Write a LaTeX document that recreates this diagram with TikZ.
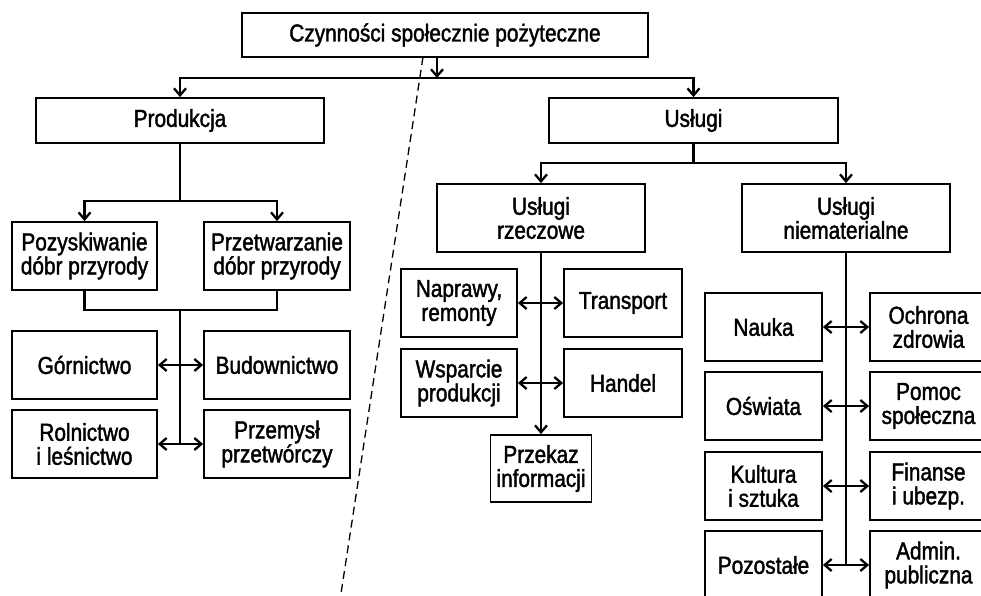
\documentclass[tikz,border=0pt]{standalone}
\usepackage{fontspec}
\setmainfont[FakeStretch=0.85,FakeBold=1.6]{Liberation Sans}
\usetikzlibrary{arrows.meta}
\begin{document}
\begin{tikzpicture}[x=1pt,y=-1pt,
  box/.style={draw, line width=1.8pt, rectangle, inner sep=0pt, align=center,
    font=\fontsize{24.5}{24}\selectfont, minimum height=68pt},
  conn/.style={line width=2.3pt},
  arrow/.style={conn, -{Straight Barb[length=7pt,width=12pt,line width=2.3pt]}},
  twoway/.style={conn, {Straight Barb[length=7pt,width=12pt,line width=2.3pt]}-{Straight Barb[length=7pt,width=12pt,line width=2.3pt]}},
  sep/.style={line width=1.3pt, dash pattern=on 8pt off 5pt}]
\useasboundingbox (0,0) rectangle (981,595);
\fill[white] (0,0) rectangle (981,595);

\node[box, minimum width=406pt, minimum height=44pt] (top) at (445,35) {Czynności społecznie pożyteczne};
\node[box, minimum width=288pt, minimum height=45pt] (prod) at (180,120.5) {Produkcja};
\node[box, minimum width=289pt, minimum height=45pt] (usl) at (693.5,120.5) {Usługi};

\node[box, minimum width=145pt] (pozy) at (84.5,256) {Pozyskiwanie\\dóbr przyrody};
\node[box, minimum width=146pt] (przet) at (277,256) {Przetwarzanie\\dóbr przyrody};
\node[box, minimum width=145pt] (gor) at (84.5,365) {Górnictwo};
\node[box, minimum width=146pt] (bud) at (277,365) {Budownictwo};
\node[box, minimum width=145pt] (rol) at (84.5,444) {Rolnictwo\\i leśnictwo};
\node[box, minimum width=146pt] (prp) at (277,444) {Przemysł\\przetwórczy};

\node[box, minimum width=208pt] (rz) at (541,218) {Usługi\\rzeczowe};
\node[box, minimum width=208pt] (nm) at (846,218) {Usługi\\niematerialne};

\node[box, minimum width=116pt] (nap) at (459,303) {Naprawy,\\remonty};
\node[box, minimum width=118pt] (tra) at (623,303) {Transport};
\node[box, minimum width=116pt] (wsp) at (459,383) {Wsparcie\\produkcji};
\node[box, minimum width=118pt] (han) at (623,383) {Handel};
\node[box, minimum width=101pt, minimum height=67pt] (pk) at (541,468.5) {Przekaz\\informacji};

\node[box, minimum width=117pt] (nau) at (763.5,327) {Nauka};
\node[box, minimum width=117pt] (och) at (928.5,327) {Ochrona\\zdrowia};
\node[box, minimum width=117pt] (osw) at (763.5,406) {Oświata};
\node[box, minimum width=117pt] (pom) at (928.5,406) {Pomoc\\społeczna};
\node[box, minimum width=117pt] (kul) at (763.5,486) {Kultura\\i sztuka};
\node[box, minimum width=117pt] (fin) at (928.5,486) {Finanse\\i ubezp.};
\node[box, minimum width=117pt] (pzs) at (763.5,565) {Pozostałe};
\node[box, minimum width=117pt] (adm) at (928.5,565) {Admin.\\publiczna};

% top level
\coordinate (j1) at (437,78);
\draw[arrow] (top.south -| j1) -- (j1);
\draw[arrow] (j1) -| (prod.north);
\draw[arrow] (j1) -| (usl.north);

% production
\coordinate (j2) at (180,201);
\draw[conn] (prod.south) -- (j2);
\draw[arrow] (j2) -| (pozy.north);
\draw[arrow] (j2) -| (przet.north);
\coordinate (j3) at (180,310);
\draw[conn] (pozy.south) |- (j3) -| (przet.south);
\draw[conn] (j3) -- (j3 |- rol.east);
\draw[twoway] (gor.east) -- (bud.west);
\draw[twoway] (rol.east) -- (prp.west);

% services
\coordinate (j4) at (693.5,163);
\draw[conn] (usl.south) -- (j4);
\draw[arrow] (j4) -| (rz.north);
\draw[arrow] (j4) -| (nm.north);

\draw[arrow] (rz.south) -- (pk.north);
\draw[twoway] (nap.east) -- (tra.west);
\draw[twoway] (wsp.east) -- (han.west);

\draw[conn] (nm.south) -- (nm.south |- pzs.east);
\draw[twoway] (nau.east) -- (och.west);
\draw[twoway] (osw.east) -- (pom.west);
\draw[twoway] (kul.east) -- (fin.west);
\draw[twoway] (pzs.east) -- (adm.west);

% dashed separator
\coordinate (d1) at (423,57);
\coordinate (d2) at (340,600);
\draw[sep] (d1) -- (d2);
\end{tikzpicture}
\end{document}
